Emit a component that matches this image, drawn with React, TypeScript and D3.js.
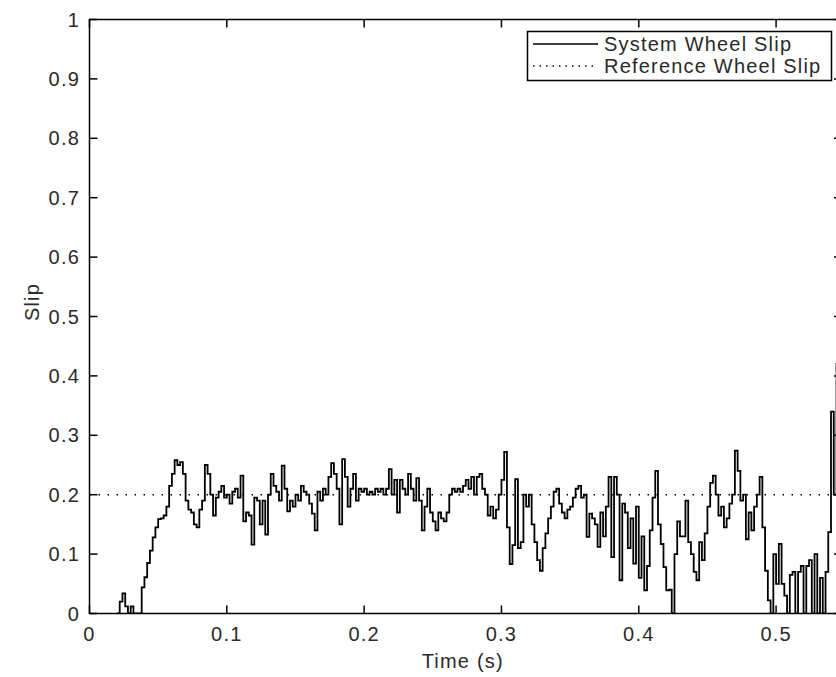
import React from 'react';
import * as d3 from 'd3';

// sampled system wheel slip (start time and sample step in seconds)
const startTime = 0.02;
const sampleStep = 0.002;
const systemSlip = [
  0, 0.02, 0.034, 0.012, 0, 0.012, 0, 0, 0, 0.044,
  0.061, 0.085, 0.106, 0.128, 0.145, 0.159, 0.16, 0.165, 0.18, 0.215,
  0.235, 0.258, 0.25, 0.255, 0.235, 0.19, 0.175, 0.17, 0.15, 0.145,
  0.175, 0.19, 0.25, 0.235, 0.2, 0.165, 0.195, 0.205, 0.215, 0.195,
  0.2, 0.185, 0.205, 0.21, 0.195, 0.232, 0.155, 0.17, 0.165, 0.116,
  0.195, 0.19, 0.15, 0.19, 0.133, 0.2, 0.235, 0.215, 0.205, 0.19,
  0.249, 0.21, 0.172, 0.19, 0.18, 0.2, 0.19, 0.215, 0.205, 0.2,
  0.185, 0.168, 0.14, 0.205, 0.19, 0.21, 0.2, 0.23, 0.253, 0.235,
  0.21, 0.15, 0.26, 0.23, 0.18, 0.21, 0.235, 0.19, 0.21, 0.205,
  0.21, 0.2, 0.205, 0.2, 0.21, 0.205, 0.21, 0.2, 0.21, 0.243,
  0.2, 0.225, 0.17, 0.225, 0.21, 0.2, 0.235, 0.21, 0.19, 0.228,
  0.19, 0.14, 0.18, 0.21, 0.17, 0.155, 0.14, 0.17, 0.16, 0.155,
  0.17, 0.2, 0.21, 0.205, 0.21, 0.205, 0.215, 0.225, 0.21, 0.23,
  0.2, 0.23, 0.235, 0.21, 0.2, 0.165, 0.18, 0.16, 0.175, 0.2,
  0.225, 0.272, 0.145, 0.083, 0.115, 0.226, 0.11, 0.12, 0.2, 0.18,
  0.2, 0.15, 0.12, 0.09, 0.072, 0.11, 0.135, 0.16, 0.18, 0.205,
  0.21, 0.185, 0.17, 0.16, 0.175, 0.18, 0.195, 0.21, 0.215, 0.195,
  0.2, 0.129, 0.168, 0.16, 0.15, 0.112, 0.17, 0.13, 0.18, 0.23,
  0.095, 0.23, 0.2, 0.056, 0.185, 0.17, 0.11, 0.16, 0.084, 0.18,
  0.06, 0.13, 0.039, 0.08, 0.14, 0.195, 0.24, 0.15, 0.117, 0.078,
  0.039, 0.04, 0, 0.1, 0.155, 0.13, 0.13, 0.19, 0.12, 0.1,
  0.07, 0.056, 0.12, 0.09, 0.135, 0.18, 0.22, 0.232, 0.2, 0.165,
  0.18, 0.145, 0.16, 0.185, 0.2, 0.274, 0.24, 0.19, 0.2, 0.125,
  0.17, 0.14, 0.18, 0.2, 0.23, 0.145, 0.072, 0.022, 0, 0.1,
  0.05, 0.117, 0.05, 0.03, 0, 0.065, 0.07, 0, 0.07, 0.08,
  0, 0.08, 0.09, 0, 0.1, 0, 0.06, 0, 0.07, 0.137,
  0.34, 0.2, 0.42, 0.3,
];
const referenceSlip = 0.2;
const xTickValues = [0, 0.1, 0.2, 0.3, 0.4, 0.5];
const yTickValues = [0, 0.1, 0.2, 0.3, 0.4, 0.5, 0.6, 0.7, 0.8, 0.9, 1];
const legendLabels = ['System Wheel Slip', 'Reference Wheel Slip'];
const xLabel = 'Time (s)';
const yLabel = 'Slip';

const FONT = '"Liberation Sans", Arial, Helvetica, sans-serif';

export default function App() {
  const W = 836;
  const H = 677;
  const L = 89.5;
  const R = 842;
  const T = 19.5;
  const B = 613.5;
  const x = d3.scaleLinear().domain([0, 0.548]).range([L, R]);
  const y = d3.scaleLinear().domain([0, 1]).range([B, T]);
  const pts: [number, number][] = systemSlip.map((v, i) => [startTime + i * sampleStep, v]);
  const line = d3
    .line<[number, number]>()
    .x((d) => x(d[0]))
    .y((d) => y(d[1]))
    .curve(d3.curveStepAfter);
  const tickLen = 8;
  const fmt = (v: number) => (Math.round(v * 10) / 10).toString();
  const textStyle = { fontFamily: FONT, fontSize: 20, letterSpacing: 1.2, fill: '#2a2a2a' } as const;

  const legX0 = 527.5;
  const legX1 = 831.5;
  const legY0 = 31.5;
  const legY1 = 80.5;

  return (
    <svg
      width={W}
      height={H}
      style={{ position: 'absolute', left: 0, top: 0, background: '#fff' }}
    >
      <rect x={0} y={0} width={W} height={H} fill="#fff" />
      <clipPath id="plotclip">
        <rect x={L} y={T} width={R - L} height={B - T} />
      </clipPath>
      {/* reference line */}
      <line
        x1={x(0)}
        x2={R}
        y1={y(referenceSlip)}
        y2={y(referenceSlip)}
        stroke="#000"
        strokeWidth={1.5}
        strokeDasharray="1.5,7.5"
      />
      <path
        d={line(pts) || ''}
        fill="none"
        stroke="#000"
        strokeWidth={1.8}
        clipPath="url(#plotclip)"
      />
      {/* axes box */}
      <rect x={L} y={T} width={R - L} height={B - T} fill="none" stroke="#000" strokeWidth={1.5} />
      {xTickValues.map((v) => (
        <g key={'xt' + v}>
          <line x1={x(v)} x2={x(v)} y1={B} y2={B - tickLen} stroke="#000" strokeWidth={1.5} />
          <line x1={x(v)} x2={x(v)} y1={T} y2={T + tickLen} stroke="#000" strokeWidth={1.5} />
          <text x={x(v)} y={641} textAnchor="middle" style={textStyle}>
            {fmt(v)}
          </text>
        </g>
      ))}
      {yTickValues.map((v) => (
        <g key={'yt' + v}>
          <line x1={L} x2={L + tickLen} y1={y(v)} y2={y(v)} stroke="#000" strokeWidth={1.5} />
          <line x1={R} x2={R - tickLen} y1={y(v)} y2={y(v)} stroke="#000" strokeWidth={1.5} />
          <text x={80} y={y(v) + 7} textAnchor="end" style={textStyle}>
            {fmt(v)}
          </text>
        </g>
      ))}
      <text x={(L + R) / 2 - 3} y={668} textAnchor="middle" style={textStyle}>
        {xLabel}
      </text>
      <text transform={`translate(39, 302) rotate(-90)`} textAnchor="middle" style={textStyle}>
        {yLabel}
      </text>
      {/* legend */}
      <rect x={legX0} y={legY0} width={legX1 - legX0} height={legY1 - legY0} fill="#fff" stroke="#000" strokeWidth={1.5} />
      <line x1={533} x2={598} y1={44} y2={44} stroke="#000" strokeWidth={1.6} />
      <line x1={533} x2={598} y1={66} y2={66} stroke="#000" strokeWidth={1.5} strokeDasharray="1.5,5" />
      <text x={604} y={51} style={textStyle}>
        {legendLabels[0]}
      </text>
      <text x={604} y={73} style={textStyle}>
        {legendLabels[1]}
      </text>
    </svg>
  );
}
